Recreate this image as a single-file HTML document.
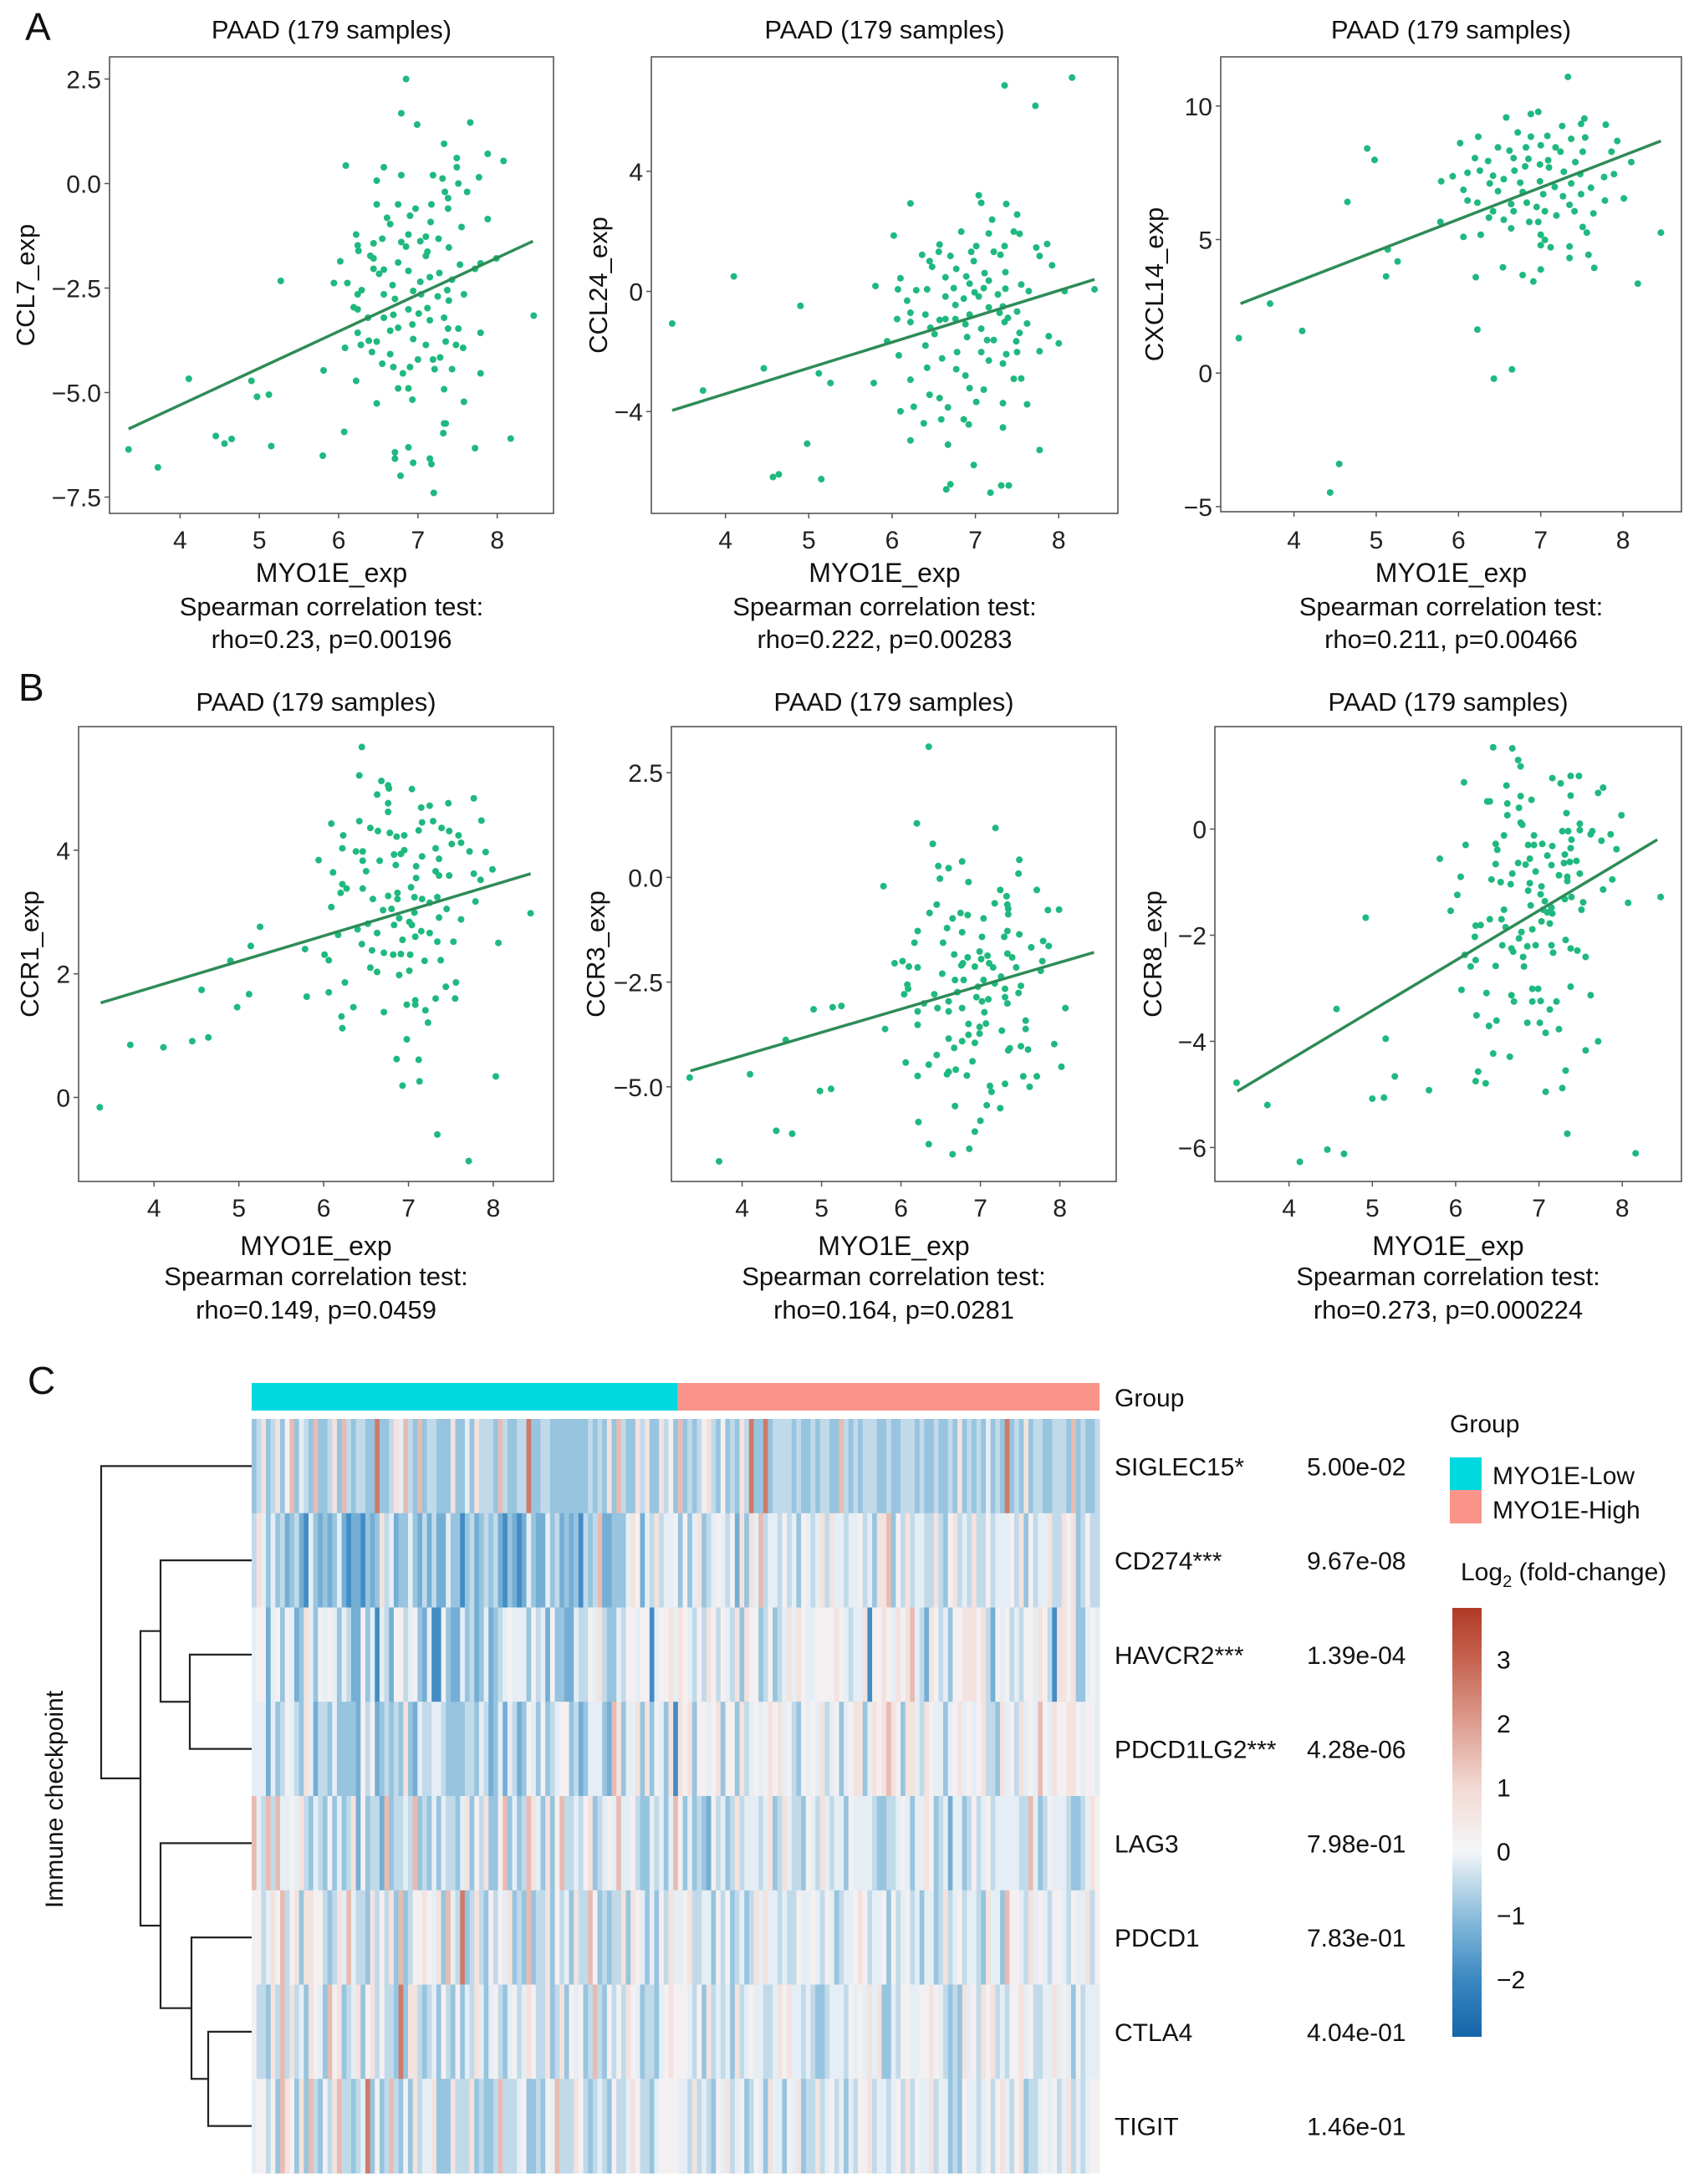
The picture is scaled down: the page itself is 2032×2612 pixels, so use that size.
<!DOCTYPE html>
<html><head><meta charset="utf-8"><style>
html,body{margin:0;padding:0;background:#fff}
svg{display:block;font-family:"Liberation Sans",Arial,sans-serif}
</style></head><body>
<svg id="fig" width="2032" height="2612" viewBox="0 0 2032 2612" xmlns="http://www.w3.org/2000/svg">
<text x="30" y="48" font-size="46" fill="#111">A</text>
<text x="22" y="838" font-size="46" fill="#111">B</text>
<text x="33" y="1667" font-size="46" fill="#111">C</text>
<g id="scatters"></g>
<g id="heatmap"></g>
</svg>
<script>
// ---------- scatter data (data units) ----------
const a1X=[6.85,6.79,6.99,7.66,7.33,7.88,8.08,6.09,6.57,7.49,7.49,6.79,7.19,7.77,6.48,7.51,7.31,7.62,7.34,7.38,6.48,6.75,7.17,6.97,7.38,6.9,6.61,7.88,6.65,7.16,7.55,6.22,6.88,7.1,7.26,6.55,6.79,6.44,6.24,7.03,7.12,7.39,6.25,6.85,6.4,7.1,6.44,6.02,6.75,7.53,7.79,7.99,6.44,6.57,6.88,7.72,7.27,6.51,5.27,5.94,6.11,7.03,7.15,6.68,7.43,6.29,7.37,7.58,6.24,6.57,6.94,7.04,7.25,6.71,7.39,6.19,6.24,6.88,7.12,6.69,7.01,8.46,7.33,6.57,7.15,6.37,6.93,6.75,6.65,7.51,7.38,7.79,6.24,6.48,6.38,7.35,6.28,7.1,6.94,7.48,6.08,7.57,6.42,6.65,7.0,7.19,7.28,6.55,6.69,6.9,7.21,7.43,5.81,6.81,7.79,4.11,4.9,6.22,6.75,6.88,7.33,5.12,4.97,6.93,7.58,6.48,7.33,7.35,6.07,7.32,4.45,4.56,4.65,8.17,5.15,3.35,6.88,7.72,6.71,6.71,7.15,7.17,6.94,5.8,3.72,6.78,7.2];
const a1Y=[2.5,1.68,1.41,1.46,0.95,0.71,0.54,0.43,0.39,0.61,0.39,0.2,0.2,0.15,0.07,0,0.12,-0.2,-0.2,-0.35,-0.5,-0.5,-0.5,-0.6,-0.6,-0.77,-0.82,-0.85,-0.97,-0.92,-1.04,-1.22,-1.22,-1.27,-1.32,-1.32,-1.4,-1.43,-1.48,-1.38,-1.63,-1.53,-1.61,-1.51,-1.73,-1.73,-1.79,-1.86,-1.89,-1.94,-1.91,-1.79,-2.04,-2.06,-2.09,-2.04,-2.14,-2.16,-2.33,-2.38,-2.38,-2.35,-2.24,-2.43,-2.3,-2.55,-2.55,-2.65,-2.65,-2.65,-2.57,-2.65,-2.7,-2.76,-2.8,-2.96,-3.01,-3.01,-2.98,-3.14,-3.11,-3.16,-3.21,-3.21,-3.27,-3.21,-3.37,-3.45,-3.52,-3.47,-3.47,-3.57,-3.57,-3.78,-3.76,-3.78,-3.86,-3.86,-3.72,-3.86,-3.93,-3.93,-4.03,-4.08,-4.21,-4.21,-4.16,-4.31,-4.39,-4.39,-4.44,-4.44,-4.47,-4.54,-4.54,-4.67,-4.72,-4.72,-4.9,-4.9,-4.92,-5.05,-5.1,-5.17,-5.22,-5.26,-5.74,-5.74,-5.94,-5.97,-6.04,-6.22,-6.11,-6.1,-6.28,-6.36,-6.31,-6.33,-6.43,-6.58,-6.58,-6.71,-6.68,-6.51,-6.79,-6.99,-7.4];
const a1Line=[[3.35,-5.87],[8.45,-1.38]];

const a2X=[8.16,7.35,7.72,7.04,7.07,6.22,7.37,7.5,7.2,6.83,7.16,7.46,7.53,6.02,6.57,7.01,7.73,7.86,7.35,6.56,6.95,7.22,7.3,6.36,6.7,7.77,6.45,6.98,6.48,7.92,6.77,7.11,7.36,6.64,6.89,4.1,6.1,7.16,6.93,7.55,5.8,6.74,7.1,7.36,6.07,6.29,6.42,7.64,8.43,8.07,6.99,7.27,6.64,6.86,7.04,6.18,6.76,4.9,7.16,7.33,7.5,7.29,6.22,6.4,6.93,7.39,6.64,6.76,6.06,6.22,6.57,6.88,7.35,7.62,3.36,6.46,7.07,6.51,7.53,6.9,7.88,7.14,7.22,7.49,5.94,8.0,6.4,7.07,7.5,6.78,7.77,6.08,6.6,7.16,7.37,7.33,6.42,6.77,4.46,5.12,6.88,6.22,7.46,7.55,5.26,5.78,6.93,7.1,3.73,6.45,6.57,7.01,7.33,7.62,6.26,6.67,6.1,6.59,6.38,6.86,6.92,7.33,6.22,6.67,4.98,7.77,6.98,4.57,4.64,5.15,6.7,6.65,7.31,7.4,7.18];
const a2Y=[7.12,6.86,6.18,3.2,2.95,2.93,2.91,2.56,2.39,1.99,1.93,1.99,1.92,1.86,1.56,1.51,1.46,1.58,1.51,1.32,1.32,1.32,1.22,1.22,1.18,1.18,1.01,1.01,0.82,0.87,0.75,0.61,0.64,0.47,0.5,0.5,0.44,0.36,0.26,0.23,0.18,0.11,0.11,0.09,0.07,0.04,0.07,0.01,0.07,0.01,-0.03,-0.1,-0.17,-0.24,-0.17,-0.31,-0.45,-0.48,-0.53,-0.5,-0.67,-0.71,-0.71,-0.77,-0.77,-0.88,-0.92,-0.92,-0.92,-1.02,-0.95,-1.09,-1.02,-1.07,-1.07,-1.21,-1.24,-1.42,-1.38,-1.52,-1.49,-1.62,-1.62,-1.66,-1.66,-1.73,-1.8,-2.02,-2.02,-2.02,-1.99,-2.13,-2.23,-2.3,-2.09,-2.4,-2.54,-2.59,-2.56,-2.73,-2.8,-2.94,-2.91,-2.9,-3.05,-3.05,-3.22,-3.27,-3.3,-3.44,-3.55,-3.68,-3.72,-3.76,-3.84,-3.86,-3.99,-4.26,-4.39,-4.26,-4.43,-4.53,-4.96,-5.1,-5.07,-5.28,-5.78,-6.18,-6.09,-6.25,-6.42,-6.59,-6.46,-6.46,-6.7];
const a2Line=[[3.36,-3.96],[8.43,0.4]];

const a3X=[7.33,6.97,6.88,6.58,7.53,7.26,7.49,7.79,4.89,4.98,6.02,6.24,6.72,6.88,7.08,7.37,7.54,7.93,6.48,6.62,6.82,7.0,7.18,7.24,7.51,7.86,6.2,6.36,6.67,6.85,7.09,7.42,8.1,6.11,5.93,6.26,6.42,6.68,6.81,6.99,7.1,7.28,7.48,7.77,7.89,5.79,6.38,6.55,6.75,6.99,7.17,7.37,7.61,6.06,6.48,6.78,7.03,7.27,7.49,8.01,4.65,6.11,6.23,6.64,6.83,6.95,7.35,7.78,6.42,6.67,7.05,7.41,7.19,7.64,6.37,6.55,6.86,5.78,6.97,6.64,7.51,7.56,8.46,6.06,6.27,7.0,7.05,7.0,7.12,7.35,5.14,7.35,5.26,7.58,6.54,7.65,7.0,5.12,6.21,6.78,6.91,8.18,3.71,3.33,4.1,6.23,6.65,6.43,4.55,4.44];
const a3Y=[11.09,9.78,9.7,9.57,9.53,9.25,9.33,9.3,8.41,7.98,8.61,8.85,9.01,8.85,8.88,8.77,8.82,8.69,8.45,8.33,8.45,8.53,8.45,8.29,8.29,8.29,8.05,7.94,8.05,8.02,7.97,7.9,7.9,7.5,7.37,7.58,7.39,7.58,7.74,7.81,7.7,7.54,7.45,7.34,7.45,7.18,7.1,7.26,7.13,7.18,6.97,7.1,6.94,6.86,6.81,6.78,6.7,6.62,6.7,6.54,6.41,6.46,6.38,6.33,6.38,6.22,6.3,6.46,6.06,6.06,6.06,6.06,5.9,5.98,5.82,5.74,5.66,5.66,5.66,5.42,5.47,5.26,5.26,5.1,5.18,5.18,4.99,4.79,4.71,4.74,4.63,4.31,4.18,4.43,3.96,3.94,3.88,3.62,3.59,3.67,3.43,3.35,2.6,1.31,1.58,1.63,0.14,-0.21,-3.4,-4.47];
const a3Line=[[3.35,2.6],[8.46,8.69]];

const b1X=[6.45,6.42,6.68,6.76,7.04,6.77,6.63,7.77,6.76,7.47,7.15,7.25,6.76,6.09,6.42,7.16,7.29,7.86,6.55,6.64,6.78,7.48,7.39,6.23,6.86,6.95,7.12,7.59,7.62,6.22,6.38,6.46,6.95,7.32,7.72,7.91,7.51,6.91,6.83,7.16,5.94,6.46,6.66,7.36,6.85,7.09,6.5,6.11,7.99,7.32,7.36,7.48,7.77,7.09,7.85,6.22,6.27,6.46,7.03,6.2,6.87,6.76,7.07,6.58,6.87,7.16,7.34,7.79,7.25,6.7,6.8,7.45,6.09,8.44,7.07,6.89,7.36,7.62,7.01,6.52,6.83,7.04,5.25,6.4,7.15,6.63,7.25,6.17,7.08,6.93,6.45,7.34,7.53,5.14,8.06,6.57,6.71,6.91,6.82,5.78,6.01,7.02,6.06,7.19,7.38,4.9,6.55,6.63,6.89,7.01,6.25,7.56,7.44,4.56,6.06,5.12,5.8,7.32,7.55,7.08,6.98,7.08,4.98,6.35,7.2,6.71,6.21,7.23,6.22,4.64,4.45,6.98,3.72,4.11,6.86,7.12,8.03,7.13,6.93,3.36,7.34,7.71];
const b1Y=[5.67,5.21,5.12,5.05,4.99,5.0,4.9,4.84,4.76,4.76,4.69,4.72,4.62,4.43,4.47,4.45,4.47,4.48,4.36,4.31,4.28,4.31,4.36,4.24,4.22,4.24,4.32,4.24,4.12,4.03,3.98,3.98,4.0,4.03,3.98,3.97,4.1,3.94,3.93,3.9,3.84,3.83,3.83,3.86,3.76,3.74,3.66,3.64,3.69,3.66,3.59,3.59,3.62,3.55,3.52,3.45,3.38,3.38,3.4,3.31,3.31,3.26,3.24,3.21,3.21,3.21,3.24,3.17,3.15,3.03,3.05,3.05,3.08,2.98,2.99,2.9,2.91,2.88,2.84,2.81,2.79,2.79,2.76,2.72,2.69,2.66,2.66,2.63,2.6,2.55,2.48,2.52,2.52,2.45,2.5,2.38,2.34,2.32,2.31,2.4,2.31,2.31,2.22,2.21,2.22,2.21,2.1,2.03,1.98,2.05,1.86,1.86,1.79,1.74,1.7,1.67,1.63,1.6,1.6,1.57,1.5,1.5,1.46,1.46,1.41,1.38,1.31,1.21,1.12,0.97,0.91,0.94,0.85,0.81,0.62,0.61,0.34,0.26,0.19,-0.16,-0.6,-1.03];
const b1Line=[[3.37,1.53],[8.44,3.62]];

const b2X=[6.35,6.2,7.19,6.4,7.49,6.77,6.47,6.6,7.48,6.49,6.85,5.78,7.25,7.71,7.33,6.45,7.18,7.34,7.35,7.85,7.99,6.36,6.75,6.84,6.65,7.04,7.35,6.21,6.58,6.77,7.34,7.49,7.02,7.3,6.17,6.53,7.79,7.64,7.86,6.67,6.99,7.34,7.09,6.84,7.4,7.01,6.78,5.92,6.02,7.11,7.78,6.93,6.1,6.76,6.21,7.16,7.45,7.76,6.52,7.26,6.68,6.79,7.04,7.18,6.08,7.51,6.97,7.31,6.09,6.71,7.48,6.04,6.42,6.95,7.31,7.1,6.6,7.02,7.34,6.29,6.46,6.77,4.9,5.14,5.25,6.6,8.07,6.21,7.05,7.57,6.85,6.21,7.07,6.99,7.57,5.8,7.27,6.85,6.99,6.6,6.77,6.93,4.55,7.93,6.67,7.51,7.6,7.37,7.35,6.45,6.9,6.06,6.35,8.02,6.6,6.69,6.58,4.1,6.21,6.83,7.54,7.71,3.34,7.31,7.12,7.62,7.14,4.98,5.12,7.08,6.68,7.25,6.22,7.0,4.43,4.63,6.93,6.35,6.86,6.65,3.71];
const b2Y=[3.12,1.29,1.18,0.8,0.42,0.38,0.27,0.22,0.09,-0.03,-0.11,-0.21,-0.3,-0.3,-0.45,-0.65,-0.62,-0.65,-0.75,-0.78,-0.77,-0.85,-0.85,-0.9,-0.98,-0.98,-0.88,-1.28,-1.21,-1.31,-1.28,-1.36,-1.42,-1.42,-1.56,-1.56,-1.52,-1.67,-1.64,-1.84,-1.77,-1.82,-1.87,-1.91,-1.91,-1.95,-2.05,-2.05,-2.0,-2.05,-2.0,-2.13,-2.13,-2.1,-2.15,-2.15,-2.15,-2.23,-2.3,-2.37,-2.45,-2.45,-2.45,-2.53,-2.56,-2.59,-2.61,-2.66,-2.66,-2.74,-2.76,-2.79,-2.79,-2.86,-2.86,-2.91,-2.96,-2.96,-3.01,-3.01,-3.12,-3.12,-3.15,-3.1,-3.07,-3.2,-3.12,-3.2,-3.22,-3.42,-3.5,-3.52,-3.49,-3.57,-3.62,-3.62,-3.66,-3.76,-3.73,-3.85,-3.91,-3.95,-3.88,-3.98,-4.07,-4.03,-4.11,-4.08,-4.13,-4.24,-4.39,-4.42,-4.47,-4.52,-4.64,-4.59,-4.7,-4.7,-4.74,-4.73,-4.75,-4.75,-4.78,-4.93,-4.98,-5.0,-5.12,-5.1,-5.05,-5.44,-5.46,-5.51,-5.84,-5.81,-6.05,-6.12,-6.07,-6.37,-6.48,-6.61,-6.78];
const b2Line=[[3.35,-4.62],[8.43,-1.79]];

const b3X=[6.45,6.68,6.75,6.78,6.1,7.16,7.26,7.38,7.48,6.61,7.77,7.71,7.38,6.78,6.38,6.41,6.62,6.91,6.76,7.33,6.62,7.99,6.78,6.8,7.49,7.28,7.35,7.49,7.64,7.86,7.62,6.58,6.94,7.39,6.12,6.48,6.87,6.94,7.04,7.16,7.75,6.5,7.38,7.93,7.31,7.1,5.81,6.89,6.48,6.75,6.84,7.3,7.37,7.45,7.15,6.96,6.68,7.24,7.34,7.49,6.06,6.43,7.88,6.54,6.66,6.89,7.03,7.34,7.02,6.87,7.77,6.02,7.31,7.39,8.46,7.07,7.53,8.07,6.9,7.15,7.05,7.51,5.94,7.1,7.16,6.58,4.92,6.41,6.55,7.03,7.13,6.24,6.3,6.6,6.92,6.79,6.23,6.76,7.32,6.96,6.56,6.86,7.15,6.67,7.38,7.46,6.69,7.17,6.81,7.56,6.11,6.24,6.48,6.82,6.18,7.38,6.07,6.92,6.99,6.37,7.62,6.67,6.7,6.92,7.02,7.21,4.57,7.13,6.25,6.49,6.86,7.01,7.24,6.4,7.08,5.16,7.71,7.56,6.45,6.65,7.32,5.27,3.37,6.24,6.27,6.36,5.68,7.08,7.28,5.14,5.0,3.74,7.34,4.46,4.66,4.13,8.16];
const b3Y=[1.54,1.52,1.3,1.18,0.88,0.96,0.86,1.0,1.0,0.82,0.78,0.68,0.63,0.62,0.52,0.52,0.48,0.55,0.4,0.3,0.26,0.26,0.12,0.08,0.1,-0.04,-0.04,-0.02,-0.04,-0.1,-0.1,-0.12,-0.12,-0.2,-0.3,-0.28,-0.3,-0.3,-0.28,-0.32,-0.22,-0.39,-0.36,-0.38,-0.48,-0.5,-0.56,-0.56,-0.66,-0.64,-0.67,-0.64,-0.62,-0.6,-0.68,-0.8,-0.84,-0.87,-0.9,-0.84,-0.9,-0.95,-0.95,-1.0,-1.04,-1.02,-1.08,-0.98,-1.23,-1.16,-1.14,-1.24,-1.32,-1.28,-1.28,-1.36,-1.38,-1.39,-1.44,-1.48,-1.52,-1.52,-1.54,-1.57,-1.59,-1.52,-1.67,-1.7,-1.7,-1.74,-1.78,-1.82,-1.81,-1.85,-1.89,-1.94,-2.03,-2.06,-2.09,-2.19,-2.19,-2.21,-2.19,-2.25,-2.25,-2.29,-2.31,-2.33,-2.41,-2.41,-2.37,-2.47,-2.58,-2.59,-2.59,-2.97,-3.03,-3.01,-3.01,-3.09,-3.13,-3.13,-3.25,-3.25,-3.24,-3.25,-3.39,-3.4,-3.51,-3.61,-3.65,-3.65,-3.77,-3.71,-3.84,-3.95,-4.0,-4.17,-4.23,-4.29,-4.55,-4.66,-4.78,-4.75,-4.57,-4.79,-4.92,-4.95,-4.88,-5.06,-5.08,-5.2,-5.74,-6.04,-6.12,-6.27,-6.11];
const b3Line=[[3.38,-4.94],[8.42,-0.2]];

const xTicks=[4,5,6,7,8];
const a1YTicks=[2.5,0,-2.5,-5,-7.5];
const a1YLabels=["2.5","0.0","\u22122.5","\u22125.0","\u22127.5"];
const a2YTicks=[4,0,-4];
const a2YLabels=["4","0","\u22124"];
const a3YTicks=[10,5,0,-5];
const a3YLabels=["10","5","0","\u22125"];
const b1YTicks=[4,2,0];
const b1YLabels=["4","2","0"];
const b2YTicks=[2.5,0,-2.5,-5];
const b2YLabels=["2.5","0.0","\u22122.5","\u22125.0"];
const b3YTicks=[0,-2,-4,-6];
const b3YLabels=["0","\u22122","\u22124","\u22126"];

// ---------- heatmap data ----------
const genes=["SIGLEC15*","CD274***","HAVCR2***","PDCD1LG2***","LAG3","PDCD1","CTLA4","TIGIT"];
const pvalues=["5.00e-02","9.67e-08","1.39e-04","4.28e-06","7.98e-01","7.83e-01","4.04e-01","1.46e-01"];
const nLow=90, nSamples=179;
const levelValues=[-2.5,-1.9,-1.3,-0.9,-0.5,-0.15,0.2,0.7,1.5,2.6];
const rowCodes=[
"34734736835438334738434433933475843834433373353744438433449334433333333434373843374733746383434674363437493393444434334344338434344433433444343343343734343534393437344334443834334",
"47535342342153232352122132374523353242422533134234342132125322534232314348223335762547455636357345654627375845546453654574755455645377836474554474367454744645556473645574476734644",
"56625636523753656535422635154266456325116322534235234565553645263322544657433546656615667576546476465473766346345757655666676545571667657678542764536677767426564546657641776733565",
"55525346543752443533332646234343732544554333344354235254236536345663423555328735573736537176736656736637456567675643656574563567735767876377547655356756567443756475658657667765665",
"85484855657435436353472634428344548343535443573647336835348753736844546734565855643354535863534326453474555457347544365475455365555433445653557634525534645645555544853465554334576",
"66457684673776643475854437464738346676573854934743646573438344736453744863434473765353647556744553646345347575545446556546534556764556364564535534745645543755386654756546654655746",
"64437484745376538673457367464439377434536436354753564356457644734736563484364647653443567666546374545374565544576755454334555465657573354665566765434375647674546675644557565364555",
"56646387637384364784434593634843637455733374447343348444563343658444764345436445764435666655474543657456346537553657344745645354667455456474655745534365545646754673445656457454566"
];
// colour scale stops (value, colour)
const cbStops=[-2.9,-2,-1,0,1,2,3,3.8];
const cbColors=["#1565a8","#3a88c2","#8dbedc","#f4f6f8","#f2d9d3","#dd9d90","#c5634f","#b03a26"];
const cbTicks=[3,2,1,0,-1,-2];
const cbTickLabels=["3","2","1","0","\u22121","\u22122"];
</script>
<script>
const NS="http://www.w3.org/2000/svg";
function mk(tag,attrs,parent){const e=document.createElementNS(NS,tag);for(const k in attrs)e.setAttribute(k,attrs[k]);if(parent)parent.appendChild(e);return e;}

const panels=[
 {id:"a1",xs:a1X,ys:a1Y,line:a1Line,yt:a1YTicks,yl:a1YLabels,ytitle:"CCL7_exp",f:[131,662,68,614],yd:[-7.89,3.03],ytx:30,rho:"rho=0.23, p=0.00196",row:0},
 {id:"a2",xs:a2X,ys:a2Y,line:a2Line,yt:a2YTicks,yl:a2YLabels,ytitle:"CCL24_exp",f:[779,1337,68,614],yd:[-7.39,7.81],ytx:715,rho:"rho=0.222, p=0.00283",row:0},
 {id:"a3",xs:a3X,ys:a3Y,line:a3Line,yt:a3YTicks,yl:a3YLabels,ytitle:"CXCL14_exp",f:[1460,2011,68,612],yd:[-5.19,11.84],ytx:1380,rho:"rho=0.211, p=0.00466",row:0},
 {id:"b1",xs:b1X,ys:b1Y,line:b1Line,yt:b1YTicks,yl:b1YLabels,ytitle:"CCR1_exp",f:[94,662,869,1413],yd:[-1.36,6.0],ytx:35,rho:"rho=0.149, p=0.0459",row:1},
 {id:"b2",xs:b2X,ys:b2Y,line:b2Line,yt:b2YTicks,yl:b2YLabels,ytitle:"CCR3_exp",f:[803,1335,869,1413],yd:[-7.26,3.6],ytx:712,rho:"rho=0.164, p=0.0281",row:1},
 {id:"b3",xs:b3X,ys:b3Y,line:b3Line,yt:b3YTicks,yl:b3YLabels,ytitle:"CCR8_exp",f:[1453,2011,869,1413],yd:[-6.64,1.93],ytx:1378,rho:"rho=0.273, p=0.000224",row:1}
];
const xDom=[3.11,8.71];
const rowText=[{title:46,tick:656,xt:696,sp:736,rho:775},{title:850,tick:1455,xt:1501,sp:1537,rho:1577}];
const sc=document.getElementById("scatters");
panels.forEach(p=>{
  const [L,R,T,B]=p.f;
  const sx=v=>L+(v-xDom[0])/(xDom[1]-xDom[0])*(R-L);
  const sy=v=>B-(v-p.yd[0])/(p.yd[1]-p.yd[0])*(B-T);
  const g=mk("g",{},sc);
  
  
  const rt=rowText[p.row], cx=(L+R)/2;
  const t=mk("text",{x:cx,y:rt.title,"font-size":31,"text-anchor":"middle",fill:"#111"},g);t.textContent="PAAD (179 samples)";
  
  
  const fr=mk("rect",{x:L,y:T,width:R-L,height:B-T,fill:"none",stroke:"#555","stroke-width":1.6},g);
  
  
  xTicks.forEach(v=>{
    mk("line",{x1:sx(v),x2:sx(v),y1:B,y2:B+6,stroke:"#555","stroke-width":1.5},g);
    const tl=mk("text",{x:sx(v),y:rt.tick,"font-size":30,"text-anchor":"middle",fill:"#222"},g);tl.textContent=v;
    
    
  });
  p.yt.forEach((v,i)=>{
    mk("line",{x1:L-6,x2:L,y1:sy(v),y2:sy(v),stroke:"#555","stroke-width":1.5},g);
    const tl=mk("text",{x:L-10,y:sy(v)+11,"font-size":30,"text-anchor":"end",fill:"#222"},g);tl.textContent=p.yl[i];
    
    
  });
  const yt=mk("text",{x:p.ytx,y:(T+B)/2,"font-size":31,"text-anchor":"middle",fill:"#111",transform:`rotate(-90 ${p.ytx} ${(T+B)/2})`,dy:11},g);yt.textContent=p.ytitle;
  
  
  const xt=mk("text",{x:cx,y:rt.xt,"font-size":32,"text-anchor":"middle",fill:"#111"},g);xt.textContent="MYO1E_exp";
  
  
  const s1=mk("text",{x:cx,y:rt.sp,"font-size":31,"text-anchor":"middle",fill:"#111"},g);s1.textContent="Spearman correlation test:";
  
  
  const s2=mk("text",{x:cx,y:rt.rho,"font-size":31,"text-anchor":"middle",fill:"#111"},g);s2.textContent=p.rho;
  
  
  p.xs.forEach((xv,i)=>{
    const c=mk("circle",{cx:sx(xv),cy:sy(p.ys[i]),r:4,fill:"#1fb97f"},g);
    
    
  });
  const ln=mk("line",{x1:sx(p.line[0][0]),y1:sy(p.line[0][1]),x2:sx(p.line[1][0]),y2:sy(p.line[1][1]),stroke:"#2e8b57","stroke-width":3.5},g);
  
  
});

// ---------- heatmap ----------
function hex2rgb(h){return [1,3,5].map(i=>parseInt(h.substr(i,2),16));}
function colorFor(v){
  if(v<=cbStops[0])return cbColors[0];
  for(let i=1;i<cbStops.length;i++){
    if(v<=cbStops[i]){const t=(v-cbStops[i-1])/(cbStops[i]-cbStops[i-1]);const a=hex2rgb(cbColors[i-1]),b=hex2rgb(cbColors[i]);
      return "rgb("+a.map((c,k)=>Math.round(c+(b[k]-c)*t)).join(",")+")";}
  }
  return cbColors[cbColors.length-1];
}
const hm=document.getElementById("heatmap");
const HL=301,HR=1315,HT=1697,HB=2599;
const cw=(HR-HL)/nSamples, rh=(HB-HT)/genes.length;
const gb1=mk("rect",{x:HL,y:1654,width:cw*nLow,height:33,fill:"#00d9e0"},hm);


const gb2=mk("rect",{x:HL+cw*nLow,y:1654,width:cw*(nSamples-nLow),height:33,fill:"#fa9489"},hm);


const gl=mk("text",{x:1333,y:1682,"font-size":30,fill:"#111"},hm);gl.textContent="Group";


rowCodes.forEach((code,r)=>{
  for(let c=0;c<nSamples;c++){
    const v=levelValues[+code[c]];
    const cell=mk("rect",{x:HL+c*cw,y:HT+r*rh,width:cw+0.6,height:rh+0.5,fill:colorFor(v)},hm);
    
    
  }
  const cy=HT+(r+0.5)*rh;
  const gt=mk("text",{x:1333,y:cy+11,"font-size":30,fill:"#111"},hm);gt.textContent=genes[r];
  
  
  const pt=mk("text",{x:1563,y:cy+11,"font-size":30,fill:"#111"},hm);pt.textContent=pvalues[r];
  
  
});
// dendrogram
const rc=i=>HT+(i+0.5)*rh;
const dg=mk("g",{stroke:"#222","stroke-width":2.2,fill:"none"},hm);


function u(x,y1,y2,x1end,x2end){mk("path",{d:`M${x1end},${y1}H${x}V${y2}H${x2end}`},dg);}
const yHP=(rc(2)+rc(3))/2; u(227,rc(2),rc(3),301,301);
const yA=(rc(1)+yHP)/2; u(192,rc(1),yHP,301,227);
const yD=(rc(6)+rc(7))/2; u(249,rc(6),rc(7),301,301);
const yC=(rc(5)+yD)/2; u(229,rc(5),yD,301,249);
const yB=(rc(4)+yC)/2; u(192,rc(4),yC,301,229);
const yCl=(yA+yB)/2; u(168,yA,yB,192,192);
u(121,rc(0),yCl,301,168);
const it=mk("text",{x:75,y:2152,"font-size":30,"text-anchor":"middle",fill:"#111",transform:"rotate(-90 75 2152)"},hm);it.textContent="Immune checkpoint";


// legend
const lg=mk("g",{},hm);


mk("text",{x:1734,y:1713,"font-size":30,fill:"#111"},lg).textContent="Group";
const sw1=mk("rect",{x:1734,y:1743,width:38,height:39,fill:"#00d9e0"},lg);


const sw2=mk("rect",{x:1734,y:1782,width:38,height:40,fill:"#fa9489"},lg);


mk("text",{x:1785,y:1775,"font-size":30,fill:"#111"},lg).textContent="MYO1E-Low";
mk("text",{x:1785,y:1816,"font-size":30,fill:"#111"},lg).textContent="MYO1E-High";
const lt=mk("text",{x:1747,y:1890,"font-size":30,fill:"#111"},lg);
lt.innerHTML='Log<tspan font-size="20" dy="8">2</tspan><tspan dy="-8"> (fold-change)</tspan>';


const defs=mk("defs",{},lg);
const grad=mk("linearGradient",{id:"cbg",x1:0,y1:1,x2:0,y2:0},defs);
cbStops.forEach((s,i)=>mk("stop",{offset:((s-cbStops[0])/(cbStops[cbStops.length-1]-cbStops[0])),"stop-color":cbColors[i]},grad));
const CBT=1923,CBB=2436;
const cb=mk("rect",{x:1737,y:CBT,width:35,height:CBB-CBT,fill:"url(#cbg)"},lg);


const cy2=v=>CBB-(v-cbStops[0])/(cbStops[cbStops.length-1]-cbStops[0])*(CBB-CBT);
cbTicks.forEach((v,i)=>{
  const t=mk("text",{x:1790,y:cy2(v)+11,"font-size":30,fill:"#111"},lg);t.textContent=cbTickLabels[i];
  
  
});
</script>
</body></html>
